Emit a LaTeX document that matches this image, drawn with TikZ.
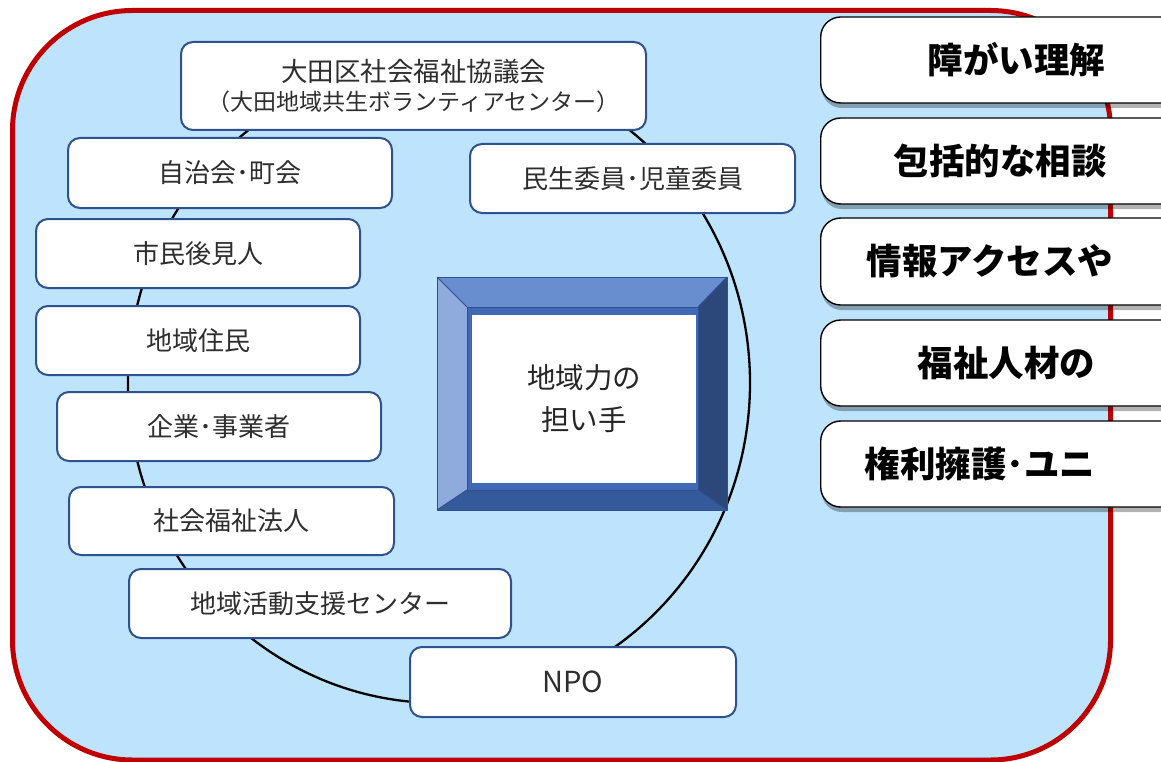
\documentclass[tikz,border=0pt]{standalone}
\usepackage{fontspec}
\setmainfont{Noto Sans CJK JP}
\usetikzlibrary{shadows}
\definecolor{bgblue}{RGB}{190,228,253}
\definecolor{redline}{RGB}{192,0,0}
\definecolor{boxblue}{RGB}{47,82,143}
\definecolor{bevtop}{RGB}{104,142,208}
\definecolor{bevleft}{RGB}{143,170,220}
\definecolor{bevright}{RGB}{44,72,122}
\definecolor{bevbot}{RGB}{52,90,155}
\definecolor{bevface}{RGB}{64,104,180}
\begin{document}
\begin{tikzpicture}[x=1pt,y=-1pt,
  member/.style={draw=boxblue, line width=2pt, fill=white, rounded corners=12pt,
    text=black!82, font=\fontsize{26}{29}\selectfont, align=center, inner sep=0pt},
  topic/.style={draw=black, line width=1.4pt, fill=white, rounded corners=20pt,
    font=\fontsize{35.5}{40}\selectfont\bfseries, inner sep=0pt, anchor=west,
    minimum width=380pt,
    drop shadow={shadow xshift=1pt, shadow yshift=-5pt, opacity=0.3, fill=black}},
  bevel/.style={draw=boxblue, line width=1pt, line join=round},
]
\useasboundingbox (0,0) rectangle (1161,762);
\clip (0,0) rectangle (1161,762);
\fill[white] (0,0) rectangle (1161,762);

% outer frame
\draw[redline, line width=5pt, fill=bgblue, rounded corners=120pt]
  (12.5,10.5) rectangle (1110.5,760);

% ring
\draw[line width=2.3pt] (439,383) ellipse [x radius=311, y radius=320];

% member boxes
\node[member, minimum width=465pt, minimum height=88pt] (kyogikai) at (413.5,86)
  {\fontsize{26.5}{29}\selectfont 大田区社会福祉協議会\\\fontsize{23}{29}\selectfont（大田地域共生ボランティアセンター）};
\node[member, minimum width=324pt, minimum height=70pt] (jichikai) at (230,173) {自治会･町会};
\node[member, minimum width=325pt, minimum height=69pt] (minsei) at (632.5,178.5) {民生委員･児童委員};
\node[member, minimum width=324pt, minimum height=69pt] (koken) at (198,253.5) {市民後見人};
\node[member, minimum width=324pt, minimum height=69pt] (jumin) at (198,340.5) {地域住民};
\node[member, minimum width=324pt, minimum height=69pt] (kigyo) at (219,426.5) {企業･事業者};
\node[member, minimum width=325pt, minimum height=68pt] (hojin) at (231.5,521) {社会福祉法人};
\node[member, minimum width=382pt, minimum height=69pt] (shien) at (320,603.5) {地域活動支援センター};
\node[member, minimum width=326pt, minimum height=70pt, font=\fontsize{29}{34}\selectfont] (npo) at (573,682) {NPO};

% bevel box
\fill[bevtop] (437,277) -- (727,277) -- (698,307) -- (467,307) -- cycle;
\fill[bevleft] (437,277) -- (467,307) -- (467,490) -- (437,510) -- cycle;
\fill[bevright] (727,277) -- (727,510) -- (698,490) -- (698,307) -- cycle;
\fill[bevbot] (437,510) -- (727,510) -- (698,490) -- (467,490) -- cycle;
\fill[bevface] (467,307) rectangle (698,490);
\draw[bevel] (437,277) rectangle (727,510);
\draw[bevel] (467,307) rectangle (698,490);
\draw[bevel] (437,277) -- (467,307) (727,277) -- (698,307)
  (437,510) -- (467,490) (727,510) -- (698,490);
\node[fill=white, minimum width=224pt, minimum height=168pt, inner sep=0pt,
  text=black!85, font=\fontsize{28.5}{42}\selectfont, align=center]
  (core) at (584,399) {地域力の\\担い手};

% topic boxes
\node[topic, minimum height=86pt] (t1) at (820,60)
  {\makebox[380pt][l]{\hspace*{107pt}障がい理解}};
\node[topic, minimum height=86pt] (t2) at (820,161)
  {\makebox[380pt][l]{\hspace*{73pt}包括的な相談}};
\node[topic, minimum height=87pt] (t3) at (820,261.5)
  {\makebox[380pt][l]{\hspace*{46pt}情報アクセスや}};
\node[topic, minimum height=86pt] (t4) at (820,363)
  {\makebox[380pt][l]{\hspace*{97pt}福祉人材の}};
\node[topic, minimum height=86pt] (t5) at (820,464)
  {\makebox[380pt][l]{\hspace*{44pt}権利擁護･ユニ}};
\end{tikzpicture}
\end{document}
